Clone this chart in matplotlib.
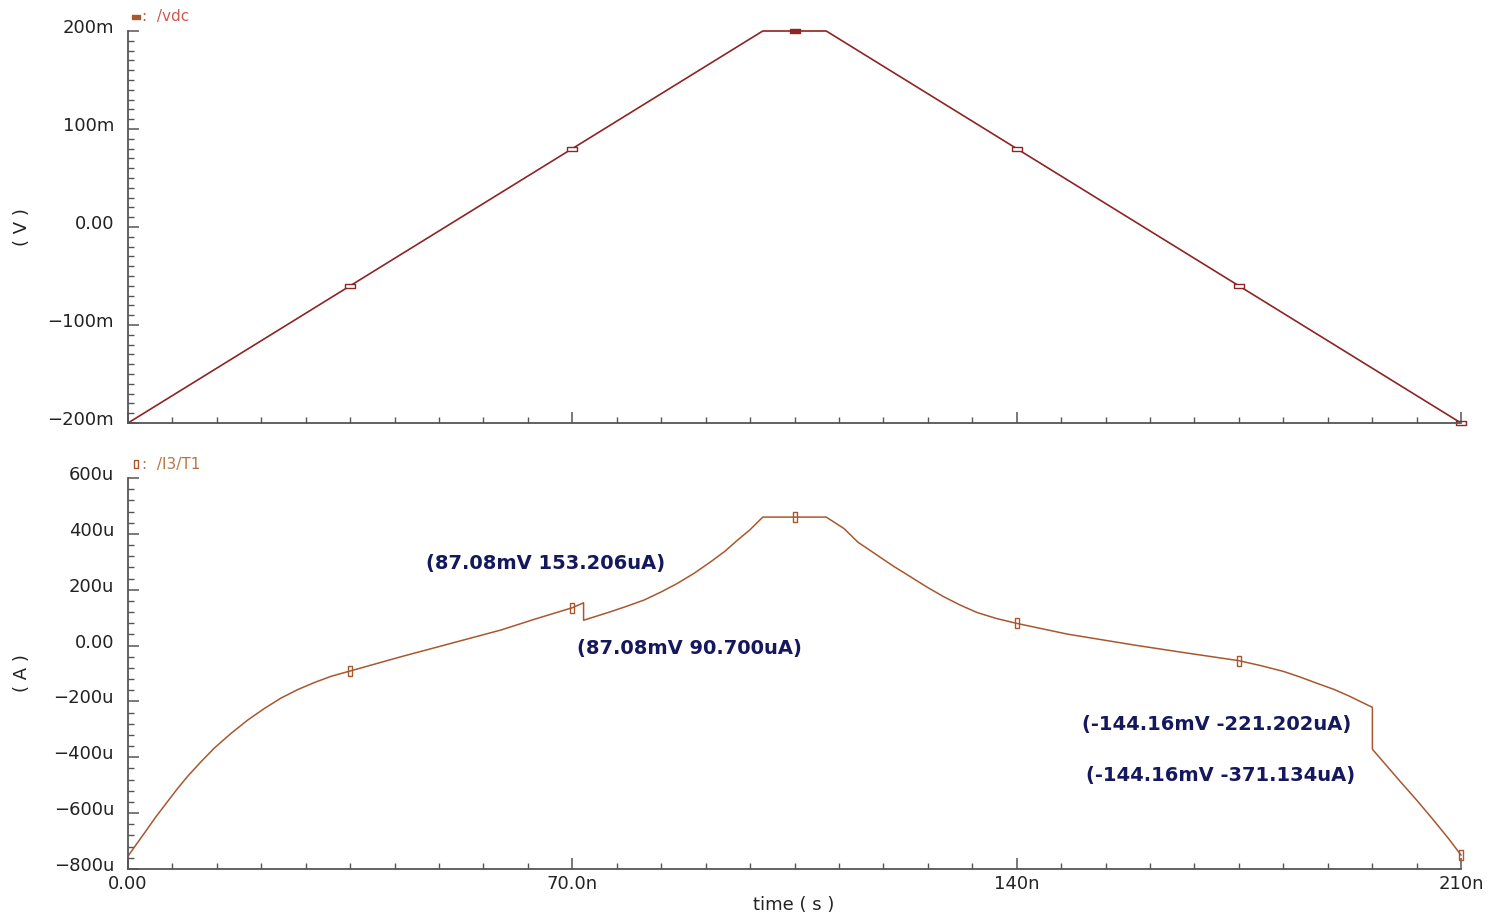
import numpy as np
import matplotlib
matplotlib.use("Agg")
import matplotlib.pyplot as plt
from matplotlib.transforms import ScaledTranslation

# --- data (time in ns, V in mV, I in uA) ---
t_vdc = [0, 100, 110, 210]
v_vdc = [-200, 200, 200, -200]

t_i = [0, 1.3, 2.6, 4.4, 6.25, 7.8, 9.4, 11.5, 13.6, 16.2, 18.9, 21.5, 24.1,
       26.7, 29.4, 32, 35, 43, 50.9, 58.8, 64, 70,
       71.77, 71.77, 76, 78.6, 81.3, 83.9, 86.5, 89.2, 91.8, 94, 96, 98, 100,
       105, 110, 112.8, 115, 118, 120.6, 123.3, 125.9, 128.5, 131.1, 133.8,
       136.8, 140, 148, 158.5, 166.3, 175, 178.5, 182.1, 184.7, 187.3, 190,
       192.5, 194.3, 196.04, 196.04, 198.2, 200.4, 203, 205.6, 208, 210]
i_t1 = [-754, -712, -671, -613, -558, -512, -468, -416, -367, -315, -266,
        -225, -188, -158, -132, -110, -91, -40, 8, 56, 94, 135.5,
        153.206, 90.7, 121, 141, 163, 191, 222, 259, 300, 337, 377, 415, 460,
        460, 460, 419, 370, 324, 284, 246, 209, 175, 145, 118,
        97, 79.5, 41, 2, -25, -54, -72, -93, -113, -135, -157,
        -182, -202, -221.202, -371.134, -428, -486, -553, -623, -690, -750]

mk_t = [35, 70, 105, 140, 175, 210]
mk_v = [-60, 80, 200, 80, -60, -200]
mk_i = [-91, 135.5, 460, 79.5, -54, -750]

x_ticks = [0, 70, 140, 210]
x_labels = ["0.00", "70.0n", "140n", "210n"]
v_ticks = [-200, -100, 0, 100, 200]
v_labels = ["\u2212200m", "\u2212100m", "0.00", "100m", "200m"]
i_ticks = [-800, -600, -400, -200, 0, 200, 400, 600]
i_labels = ["\u2212800u", "\u2212600u", "\u2212400u", "\u2212200u", "0.00",
            "200u", "400u", "600u"]

notes = ["(87.08mV 153.206uA)", "(87.08mV 90.700uA)",
         "(-144.16mV -221.202uA)", "(-144.16mV -371.134uA)"]

# colours
vdc_col = "#8e2424"
i_col = "#a8572e"
note_col = "#16185e"
axis_col = "#555555"

W, H = 1491, 917
fig = plt.figure(figsize=(W / 100, H / 100), dpi=100)

def px_axes(left, top, right, bottom):
    return fig.add_axes([left / W, 1 - bottom / H, (right - left) / W, (bottom - top) / H])

ax1 = px_axes(128, 31, 1461, 423)
ax2 = px_axes(128, 478, 1461, 869)

hrect = [(-1.6, -0.7), (1.6, -0.7), (1.6, 0.7), (-1.6, 0.7), (-1.6, -0.7)]
vrect = [(-0.6, -1.5), (0.6, -1.5), (0.6, 1.5), (-0.6, 1.5), (-0.6, -1.5)]

# top trace
ax1.plot(t_vdc, v_vdc, color=vdc_col, lw=1.2, clip_on=False)
fill = ["white"] * len(mk_t)
fill[2] = vdc_col
for t, v, fc in zip(mk_t, mk_v, fill):
    ax1.plot(t, v, marker=hrect, ms=6.5, mfc=fc, mec=vdc_col, mew=1.0,
             ls="none", clip_on=False)

# bottom trace
ax2.plot(t_i, i_t1, color=i_col, lw=1.1, clip_on=False)
ax2.plot(mk_t, mk_i, marker=vrect, ms=6.5, mfc="none", mec=i_col, mew=1.0,
         ls="none", clip_on=False)

offset = ScaledTranslation(0, 0.05, fig.dpi_scale_trans)
for ax, yt, yl, ylim, yminor in [(ax1, v_ticks, v_labels, (-200, 200), 10),
                                 (ax2, i_ticks, i_labels, (-800, 600), 40)]:
    ax.set_xlim(0, 210)
    ax.set_ylim(*ylim)
    for s in ["top", "right"]:
        ax.spines[s].set_visible(False)
    for s in ["left", "bottom"]:
        ax.spines[s].set_color(axis_col)
        ax.spines[s].set_linewidth(1.3)
    ax.set_xticks(x_ticks)
    ax.set_xticks(np.arange(0, 211, 7), minor=True)
    ax.set_yticks(yt)
    ax.set_yticks(np.arange(ylim[0], ylim[1] + 1, yminor), minor=True)
    ax.set_yticklabels(yl)
    ax.tick_params(which="major", direction="in", length=8, width=1.1,
                   color=axis_col, labelsize=13, labelcolor="#222222")
    ax.tick_params(which="minor", direction="in", length=4, width=1.0,
                   color=axis_col)
    ax.tick_params(axis="y", pad=10)
    ax.tick_params(axis="x", pad=4)
    for tk in ax.yaxis.get_major_ticks():
        tk.label1.set_transform(tk.label1.get_transform() + offset)

ax1.set_xticklabels([])
ax2.set_xticklabels(x_labels)

# signal names
ax1.plot([0.006], [1.035], marker=hrect, ms=6, mfc=i_col, mec=i_col,
         transform=ax1.transAxes, clip_on=False)
fig.text(142 / W, 1 - 17 / H, ":  /vdc", color="#cc5a4e", fontsize=11,
         ha="left", va="center")
ax2.plot([0.006], [1.035], marker=vrect, ms=6, mfc="none", mec=i_col,
         transform=ax2.transAxes, clip_on=False)
fig.text(142 / W, 1 - 464 / H, ":  /I3/T1", color="#b8753f", fontsize=11,
         ha="left", va="center")

# axis titles
fig.text(22 / W, 1 - 227 / H, "( V )", rotation=90, fontsize=13,
         color="#222222", ha="center", va="center")
fig.text(22 / W, 1 - 673 / H, "( A )", rotation=90, fontsize=13,
         color="#222222", ha="center", va="center")
fig.text(794 / W, 1 - 905 / H, "time ( s )", fontsize=13, color="#222222",
         ha="center", va="center")

# cursor readouts
note_pos = [(0.3136, 0.7822), (0.4209, 0.5651), (0.8170, 0.3685), (0.8200, 0.2383)]
for txt, (xf, yf) in zip(notes, note_pos):
    ax2.text(xf, yf, txt, transform=ax2.transAxes, fontsize=14,
             fontweight="bold", color=note_col, ha="center", va="center")

fig.savefig("out.png", dpi=100)
